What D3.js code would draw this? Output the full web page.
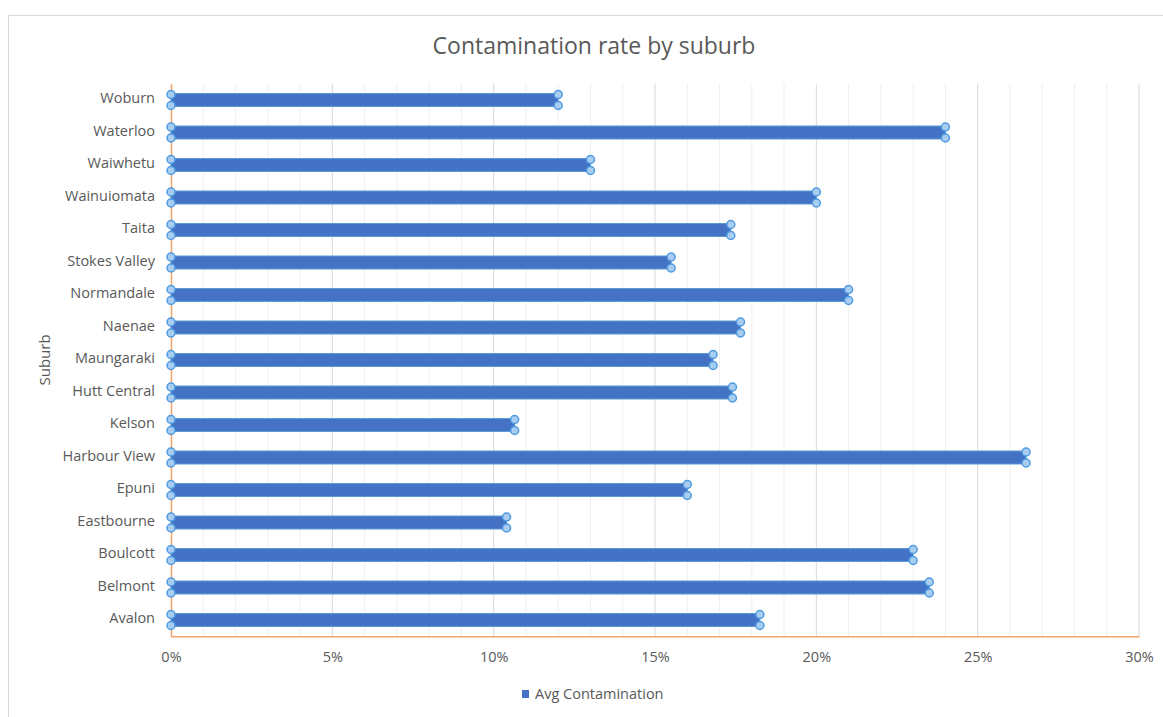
<!DOCTYPE html>
<html>
<head>
<meta charset="utf-8">
<script src="https://cdn.jsdelivr.net/npm/d3@7/dist/d3.min.js"></script>
<style>
  html, body { margin: 0; padding: 0; background: #fff; }
  svg { display: block; }
  text { font-family: "Open Sans", "Noto Sans", sans-serif; }
</style>
</head>
<body>
<svg id="chart" width="1163" height="717"></svg>
<script>
const suburbs = ["Woburn","Waterloo","Waiwhetu","Wainuiomata","Taita","Stokes Valley","Normandale","Naenae","Maungaraki","Hutt Central","Kelson","Harbour View","Epuni","Eastbourne","Boulcott","Belmont","Avalon"];
const avgContamination = [0.12, 0.24, 0.13, 0.20, 0.1735, 0.155, 0.21, 0.1765, 0.168, 0.174, 0.1065, 0.265, 0.16, 0.104, 0.23, 0.235, 0.1825];
const xTicks = [0, 0.05, 0.10, 0.15, 0.20, 0.25, 0.30];
const titleText = "Contamination rate by suburb";
const yAxisTitle = "Suburb";
const seriesName = "Avg Contamination";

const svg = d3.select("#chart");
const m = { left: 171, right: 1139, top: 83.75, bottom: 636.25 };

// chart border
svg.append("rect").attr("x", 8.5).attr("y", 15.5).attr("width", 1170).attr("height", 720)
  .attr("fill", "#fff").attr("stroke", "#d9d9d9").attr("stroke-width", 1);

const x = d3.scaleLinear().domain([0, 0.30]).range([m.left, m.right]);
const y = d3.scaleBand().domain(suburbs).range([m.top, m.bottom]);

// minor gridlines
const minor = d3.range(1, 30).map(i => i / 100).filter(v => Math.round(v * 100) % 5 !== 0);
svg.append("g").selectAll("line").data(minor).join("line")
  .attr("x1", d => x(d)).attr("x2", d => x(d))
  .attr("y1", m.top).attr("y2", m.bottom)
  .attr("stroke", "#efefef").attr("stroke-width", 1);
// major gridlines
svg.append("g").selectAll("line").data(xTicks.slice(1)).join("line")
  .attr("x1", d => x(d)).attr("x2", d => x(d))
  .attr("y1", m.top).attr("y2", m.bottom)
  .attr("stroke", "#d9d9d9").attr("stroke-width", 1);

// x axis
const xAxis = d3.axisBottom(x).tickValues(xTicks).tickFormat(d3.format(".0%")).tickSize(0).tickPadding(15);
const gx = svg.append("g").attr("transform", `translate(0,${m.bottom})`).call(xAxis);
gx.select(".domain").attr("stroke", "#f4a46a").attr("stroke-width", 1.5);
gx.selectAll("text").attr("fill", "#595959").style("font-size", "14.5px");

// y axis
const yAxis = d3.axisLeft(y).tickSize(0).tickPadding(16);
const gy = svg.append("g").attr("transform", `translate(${m.left},0)`).call(yAxis);
gy.select(".domain").attr("stroke", "#f4a46a").attr("stroke-width", 1.5);
gy.selectAll("text").attr("fill", "#595959").style("font-size", "14.5px").attr("dy", "0.22em");

// bars
const bh = 13;
svg.append("g").selectAll("rect").data(suburbs).join("rect")
  .attr("x", x(0))
  .attr("y", d => y(d) + y.bandwidth() / 2 - bh / 2)
  .attr("width", (d, i) => x(avgContamination[i]) - x(0))
  .attr("height", bh)
  .attr("fill", "#4472c4").attr("stroke", "#5b9bd5").attr("stroke-width", 1);

// markers
const pts = [];
suburbs.forEach((s, i) => {
  const cy = y(s) + y.bandwidth() / 2;
  [0, avgContamination[i]].forEach(v => {
    pts.push({ v, cy: cy - 5.5 });
    pts.push({ v, cy: cy + 5.5 });
  });
});
svg.append("g").selectAll("circle").data(pts).join("circle")
  .attr("cx", d => x(d.v)).attr("cy", d => d.cy).attr("r", 4)
  .attr("fill", "#a9cdf0").attr("stroke", "#4f9ae0").attr("stroke-width", 1.5);

// title
svg.append("text").attr("x", 594).attr("y", 54).attr("text-anchor", "middle")
  .attr("fill", "#595959").style("font-size", "23px").text(titleText);

// y axis title
svg.append("text").attr("transform", `translate(50,360) rotate(-90)`).attr("text-anchor", "middle")
  .attr("fill", "#595959").style("font-size", "15px").text(yAxisTitle);

// legend
svg.append("rect").attr("x", 522).attr("y", 690).attr("width", 7).attr("height", 8).attr("fill", "#4472c4");
svg.append("text").attr("x", 535).attr("y", 699).attr("fill", "#595959").style("font-size", "14.5px").text(seriesName);
</script>
</body>
</html>
